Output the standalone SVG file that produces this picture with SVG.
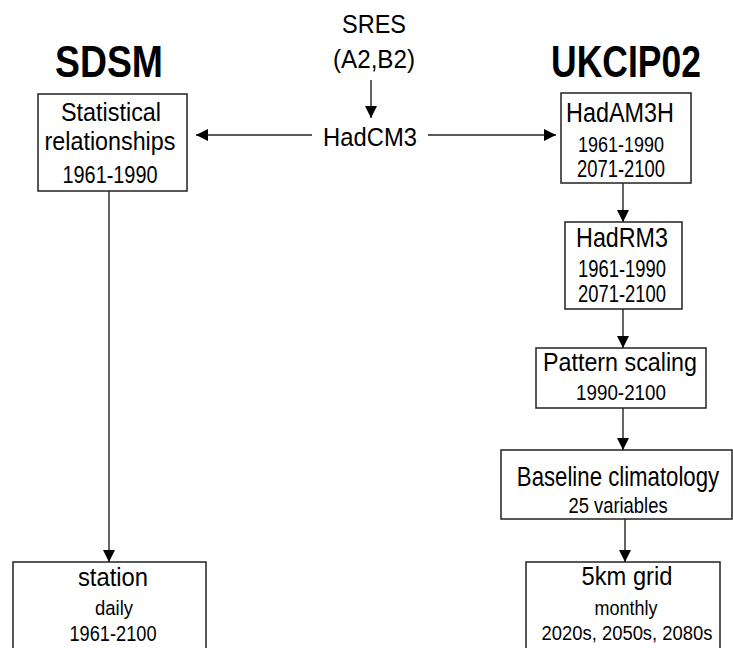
<svg xmlns="http://www.w3.org/2000/svg" width="733" height="648" viewBox="0 0 733 648">
<style>
text{font-family:"Liberation Sans",Arial,sans-serif;fill:#000;text-anchor:middle}
.h{font-weight:bold}
.box{fill:#fff;stroke:#222;stroke-width:1.5}
.c{fill:none;stroke:#222;stroke-width:1.4}
</style>
<defs>
<marker id="ah" markerUnits="userSpaceOnUse" markerWidth="12" markerHeight="12" refX="12" refY="6" orient="auto">
<path d="M0,0 L12,6 L0,12 z" fill="#000"/>
</marker>
</defs>
<rect width="733" height="648" fill="#fff"/>
<g id="connectors">
<line class="c" x1="371" y1="80" x2="371" y2="118" marker-end="url(#ah)"/>
<line class="c" x1="312" y1="135" x2="196" y2="135" marker-end="url(#ah)"/>
<line class="c" x1="428" y1="135" x2="556" y2="135" marker-end="url(#ah)"/>
<line class="c" x1="623" y1="183" x2="623" y2="222" marker-end="url(#ah)"/>
<line class="c" x1="623" y1="309" x2="623" y2="348" marker-end="url(#ah)"/>
<line class="c" x1="623" y1="408" x2="623" y2="450" marker-end="url(#ah)"/>
<line class="c" x1="625" y1="519" x2="625" y2="562" marker-end="url(#ah)"/>
<line class="c" x1="109" y1="191" x2="109" y2="562" marker-end="url(#ah)"/>
</g>
<g id="title-sdsm"><text class="h" transform="translate(109,77) scale(1,1.2)" font-size="37.4">SDSM</text></g>
<g id="title-ukcip"><text class="h" transform="translate(626,77) scale(1,1.24)" font-size="35.5">UKCIP02</text></g>
<g id="sres">
<text transform="translate(374,33) scale(1,1.06)" font-size="23.5">SRES</text>
<text transform="translate(374,68) scale(1,1.05)" font-size="24.2">(A2,B2)</text>
</g>
<g id="hadcm3"><text transform="translate(370,146) scale(1,1.1)" font-size="23.8">HadCM3</text></g>
<g id="statistical">
<rect class="box" x="38" y="94" width="149" height="97"/>
<text transform="translate(111,121) scale(1,1.1)" font-size="23.4">Statistical</text>
<text transform="translate(110,150) scale(1,1.1)" font-size="23.3">relationships</text>
<text transform="translate(110,183) scale(1,1.2)" font-size="19.9">1961-1990</text>
</g>
<g id="hadam3h">
<rect class="box" x="561" y="93" width="130" height="90"/>
<text transform="translate(620,122) scale(1,1.15)" font-size="23.4">HadAM3H</text>
<text transform="translate(621,152) scale(1,1.25)" font-size="18">1961-1990</text>
<text transform="translate(621,177) scale(1,1.25)" font-size="18.4">2071-2100</text>
</g>
<g id="hadrm3">
<rect class="box" x="565" y="222" width="117" height="87"/>
<text transform="translate(622,247) scale(1,1.16)" font-size="23.3">HadRM3</text>
<text transform="translate(622,277) scale(1,1.25)" font-size="18.4">1961-1990</text>
<text transform="translate(622,302) scale(1,1.25)" font-size="18.4">2071-2100</text>
</g>
<g id="pattern">
<rect class="box" x="536" y="348" width="170" height="60"/>
<text transform="translate(620,371) scale(1,1.12)" font-size="23.3">Pattern scaling</text>
<text transform="translate(621,400) scale(1,1.22)" font-size="18.8">1990-2100</text>
</g>
<g id="baseline">
<rect class="box" x="501" y="450" width="231" height="69"/>
<text transform="translate(618,486) scale(1,1.22)" font-size="22.2">Baseline climatology</text>
<text transform="translate(618,513) scale(1,1.2)" font-size="18.4">25 variables</text>
</g>
<g id="grid">
<rect class="box" x="526" y="562" width="194" height="100"/>
<text transform="translate(627,585) scale(1,1.1)" font-size="23.7">5km grid</text>
<text transform="translate(626,615) scale(1,1.17)" font-size="18">monthly</text>
<text transform="translate(627,640) scale(1,1.14)" font-size="18.4">2020s, 2050s, 2080s</text>
</g>
<g id="station">
<rect class="box" x="13" y="562" width="193" height="100"/>
<text transform="translate(113,586) scale(1,1.1)" font-size="23.8">station</text>
<text transform="translate(114,615) scale(1,1.14)" font-size="18.5">daily</text>
<text transform="translate(113,641) scale(1,1.2)" font-size="18.2">1961-2100</text>
</g>
</svg>
